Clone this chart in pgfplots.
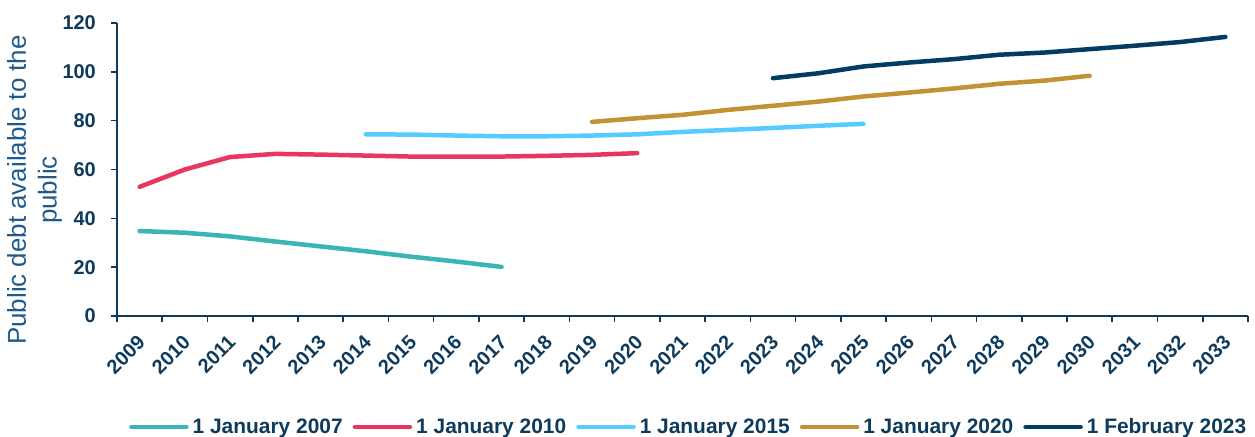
\documentclass[border=0pt]{standalone}
\usepackage{pgfplots}
\pgfplotsset{compat=1.18}
\usepackage{fontspec}
\setmainfont{Liberation Sans}
\definecolor{cTeal}{HTML}{3AB4B4}
\definecolor{cRed}{HTML}{E8365D}
\definecolor{cLight}{HTML}{55CCFF}
\definecolor{cGold}{HTML}{C49234}
\definecolor{cNavy}{HTML}{033C62}
\definecolor{cText}{HTML}{0E3A5C}
\definecolor{cYlab}{HTML}{1F5A8A}
\begin{document}
\begin{tikzpicture}
\path[use as bounding box] (-117bp,-121bp) rectangle (1138bp,316bp);
\begin{axis}[
  at={(0,0)}, anchor=south west,
  scale only axis, width=1131bp, height=293bp,
  xmin=-0.5, xmax=24.5, ymin=0, ymax=120,
  axis lines*=left,
  axis line style={cText, line width=1.6bp},
  every tick/.style={cText, line width=1.6bp},
  tick align=outside, major tick length=6bp,
  ytick={0,20,...,120},
  xtick={-0.5,0.5,...,24.5}, xticklabels={},
  extra x ticks={0,...,24},
  extra x tick labels={2009,2010,2011,2012,2013,2014,2015,2016,2017,2018,2019,2020,2021,2022,2023,2024,2025,2026,2027,2028,2029,2030,2031,2032,2033},
  extra x tick style={major tick length=0pt},
  /pgf/number format/assume math mode=true,
  /pgf/number format/1000 sep={},
  tick label style={font=\bfseries\fontsize{20}{24}\selectfont, text=cText},
  xticklabel style={yshift=-23bp, xshift=2bp, rotate=45, anchor=east, inner sep=0pt},
  yticklabel style={inner sep=0pt, xshift=-15bp},
  clip=false,
  legend columns=5,
  legend style={at={(axis description cs:0.5046,-0.3788)}, anchor=center, draw=none,
    font=\bfseries\fontsize{21}{25}\selectfont, text=cText,
    nodes={inner sep=0pt},
    /tikz/every odd column/.append style={column sep=4bp},
    /tikz/every even column/.append style={column sep=10bp}},
  legend image code/.code={\draw[#1, line width=4.5bp, line cap=round] (0bp,0bp) -- (55bp,0bp);},
  every axis plot/.append style={line width=4.5bp, line cap=round, line join=round},
]
\addplot[cTeal] coordinates {(0,34.8)(1,34.1)(2,32.6)(3,30.5)(4,28.5)(5,26.5)(6,24.3)(7,22.3)(8,20.1)};
\addlegendentry{1 January 2007}
\addplot[cRed] coordinates {(0,52.9)(1,60.0)(2,65.1)(3,66.4)(4,66.1)(5,65.7)(6,65.3)(7,65.3)(8,65.3)(9,65.6)(10,66.0)(11,66.7)};
\addlegendentry{1 January 2010}
\addplot[cLight] coordinates {(5,74.4)(6,74.3)(7,73.9)(8,73.6)(9,73.6)(10,73.9)(11,74.4)(12,75.4)(13,76.2)(14,77.0)(15,77.9)(16,78.7)};
\addlegendentry{1 January 2015}
\addplot[cGold] coordinates {(10,79.5)(11,81.0)(12,82.4)(13,84.4)(14,86.1)(15,87.8)(16,89.9)(17,91.5)(18,93.2)(19,95.1)(20,96.4)(21,98.4)};
\addlegendentry{1 January 2020}
\addplot[cNavy] coordinates {(14,97.4)(15,99.4)(16,102.2)(17,103.8)(18,105.2)(19,107.0)(20,107.9)(21,109.3)(22,110.7)(23,112.2)(24,114.3)};
\addlegendentry{1 February 2023}
\end{axis}
\node[rotate=90, align=center, text=cYlab, font=\fontsize{26}{31}\selectfont] at (-82.5bp,126bp) {Public debt available to the\\public};
\end{tikzpicture}
\end{document}
